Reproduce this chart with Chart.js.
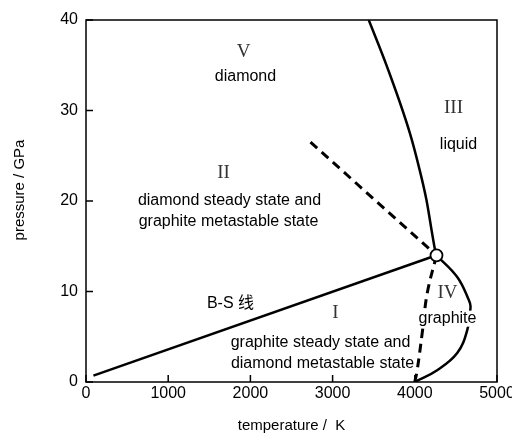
<!DOCTYPE html>
<html>
<head>
<meta charset="utf-8">
<script src="https://cdn.jsdelivr.net/npm/chart.js@4/dist/chart.umd.min.js"></script>
<style>
  html, body { margin: 0; padding: 0; background: #fff; }
  #wrap { width: 512px; height: 434px; }
</style>
</head>
<body>
<div id="wrap"><canvas id="phase"></canvas></div>
<script>
// temperature (K) / pressure (GPa)
const bsLineT = [90, 4264];
const bsLineP = [0.7, 14.0];

const diamondMeltT = [3440, 3664, 3940, 4049, 4142, 4211, 4240, 4264];
const diamondMeltP = [40, 34.8, 27.5, 23.8, 20.1, 16.4, 14.9, 14.0];

const graphiteMeltT = [4264, 4516, 4657, 4678, 4637, 4516, 4272, 4000];
const graphiteMeltP = [14.0, 11.6, 9.06, 8.3, 5.7, 3.2, 1.3, 0];

const upperDashT = [2731, 4264];
const upperDashP = [26.5, 14.0];

const lowerDashT = [4264, 4151, 4090, 4029, 4000];
const lowerDashP = [14.0, 9.8, 5.4, 1.3, 0];

const tripleT = [4264];
const tripleP = [14.0];

const xTicks = [0, 1000, 2000, 3000, 4000, 5000];
const yTicks = [0, 10, 20, 30, 40];

// region labels: text, T, P, kind
const labelText = ['V', 'diamond', 'II', 'diamond steady state and', 'graphite metastable state',
  'III', 'liquid', 'B-S 线', 'I', 'graphite steady state and', 'diamond metastable state',
  'IV', 'graphite'];
const labelT = [1918, 1940, 1674, 1746, 1734, 4471, 4532, 1758, 3035, 2853, 2877, 4398, 4398];
const labelP = [36.5, 33.7, 23.1, 20.1, 17.7, 30.3, 26.2, 8.7, 7.6, 4.4, 2.0, 9.8, 7.0];
const labelRoman = [true, false, true, false, false, true, false, false, true, false, false, true, false];

const pts = (xs, ys) => xs.map((x, i) => ({ x: x, y: ys[i] }));

const sansFont = '16px "Liberation Sans", Arial, "Noto Sans CJK SC", sans-serif';
const titleFont = '15px "Liberation Sans", Arial, sans-serif';
const romanFont = '19px "Liberation Serif", "Times New Roman", serif';

// box, inward ticks, region labels, axis titles
const decor = {
  id: 'decor',
  afterDatasetsDraw(chart) {
    const { ctx, chartArea: a, scales } = chart;
    ctx.save();
    ctx.strokeStyle = '#000';
    ctx.lineWidth = 1.5;
    ctx.strokeRect(a.left, a.top, a.right - a.left, a.bottom - a.top);
    ctx.beginPath();
    xTicks.forEach(v => {
      const x = scales.x.getPixelForValue(v);
      ctx.moveTo(x, a.bottom);
      ctx.lineTo(x, a.bottom - 7);
    });
    yTicks.forEach(v => {
      const y = scales.y.getPixelForValue(v);
      ctx.moveTo(a.left, y);
      ctx.lineTo(a.left + 7, y);
    });
    ctx.stroke();

    ctx.textAlign = 'center';
    ctx.textBaseline = 'middle';
    labelText.forEach((t, i) => {
      const x = scales.x.getPixelForValue(labelT[i]);
      const y = scales.y.getPixelForValue(labelP[i]);
      ctx.font = labelRoman[i] ? romanFont : sansFont;
      if (t === 'graphite') {
        const w = ctx.measureText(t).width;
        ctx.fillStyle = '#fff';
        ctx.fillRect(x - w / 2 - 1, y - 8, w + 2, 16);
      }
      ctx.fillStyle = labelRoman[i] ? '#333' : '#000';
      ctx.fillText(t, x, y);
    });

    ctx.fillStyle = '#000';
    ctx.font = titleFont;
    ctx.fillText('temperature /  K', (a.left + a.right) / 2, 426);
    ctx.translate(20, 190);
    ctx.rotate(-Math.PI / 2);
    ctx.fillText('pressure / GPa', 0, 0);
    ctx.restore();
  }
};

const solid = { borderColor: '#000', borderWidth: 2.5, pointRadius: 0, showLine: true, fill: false };
const dashed = { ...solid, borderWidth: 3, borderDash: [9, 6] };
const tickFont = { family: '"Liberation Sans", Arial, sans-serif', size: 16 };

new Chart(document.getElementById('phase'), {
  type: 'scatter',
  data: {
    datasets: [
      { data: pts(tripleT, tripleP), showLine: false, pointRadius: 6,
        pointBackgroundColor: '#fff', pointBorderColor: '#000', pointBorderWidth: 1.8 },
      { ...solid, data: pts(bsLineT, bsLineP) },
      { ...solid, data: pts(diamondMeltT, diamondMeltP), cubicInterpolationMode: 'monotone' },
      { ...solid, data: pts(graphiteMeltT, graphiteMeltP), tension: 0.4 },
      { ...dashed, data: pts(upperDashT, upperDashP) },
      { ...dashed, data: pts(lowerDashT, lowerDashP), tension: 0.4 }
    ]
  },
  options: {
    responsive: true,
    maintainAspectRatio: false,
    animation: false,
    events: [],
    layout: { padding: { top: 20, right: 15, left: 0, bottom: 0 } },
    plugins: { legend: { display: false }, tooltip: { enabled: false } },
    scales: {
      x: {
        type: 'linear', min: 0, max: 5000,
        afterFit: s => { s.height = 52; s.paddingLeft = 0; s.paddingRight = 0; },
        afterBuildTicks: s => { s.ticks = xTicks.map(v => ({ value: v })); },
        grid: { display: false, drawTicks: false }, border: { display: false },
        ticks: { color: '#000', padding: 2, maxRotation: 0, autoSkip: false,
          font: tickFont, callback: v => String(v) }
      },
      y: {
        type: 'linear', min: 0, max: 40,
        afterFit: s => { s.width = 86; s.paddingTop = 0; s.paddingBottom = 0; },
        afterBuildTicks: s => { s.ticks = yTicks.map(v => ({ value: v })); },
        grid: { display: false, drawTicks: false }, border: { display: false },
        ticks: { color: '#000', padding: 8, autoSkip: false,
          font: tickFont, callback: v => String(v) }
      }
    }
  },
  plugins: [decor]
});
</script>
</body>
</html>
